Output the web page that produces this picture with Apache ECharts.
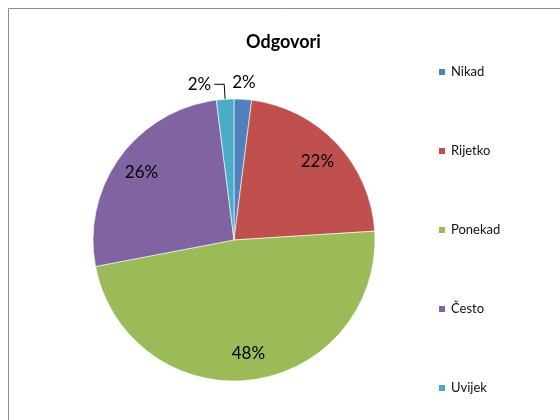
<!DOCTYPE html>
<html>
<head>
<meta charset="utf-8">
<script src="https://cdn.jsdelivr.net/npm/echarts@6/dist/echarts.min.js"></script>
<style>
  html, body { margin: 0; padding: 0; background: #fff; }
  #chart { width: 560px; height: 420px; }
</style>
</head>
<body>
<div id="chart"></div>
<script>
  // odgovori - raspodjela
  const categories = ['Nikad', 'Rijetko', 'Ponekad', 'Često', 'Uvijek']
  const counts = [1, 11, 24, 13, 1]
  const colors = ['#4F81BD', '#C0504D', '#9BBB59', '#8064A2', '#4BACC6']

  const font = 'Lato, "Open Sans", sans-serif'
  const center = [234, 240]
  const R = 141

  const pieData = categories.map((name, i) => ({ name: name, value: counts[i] }))

  const labelFmt = p => Math.round(p.percent) + '%'

  const options = {
    animation: false,
    title: {
      text: 'Odgovori',
      left: 241,
      top: 28,
      textStyle: { fontFamily: font, fontSize: 18, fontWeight: 'bold', color: '#000' }
    },
    legend: {
      orient: 'vertical',
      left: 432,
      top: 60,
      itemWidth: 8,
      itemHeight: 8,
      itemGap: 65,
      icon: 'rect',
      data: categories,
      textStyle: { fontFamily: font, fontSize: 13, color: '#111', lineHeight: 14 }
    },
    graphic: [{
      type: 'rect',
      shape: { x: 8.5, y: 8.5, width: 700, height: 600 },
      style: { fill: 'none', stroke: '#8c8c8c', lineWidth: 1 },
      silent: true
    }],
    series: [
      {
        // main pie
        type: 'pie',
        center: center,
        radius: R,
        startAngle: 90,
        clockwise: true,
        color: colors,
        itemStyle: { borderColor: '#fff', borderWidth: 0.6 },
        label: { show: false },
        labelLine: { show: false },
        emphasis: { disabled: true },
        data: pieData.map(d => d.name === 'Uvijek' ? Object.assign({}, d, {
          label: {
            show: true, position: 'outside', formatter: labelFmt,
            fontFamily: font, fontSize: 17, color: '#000', distanceToLabelLine: 3
          },
          labelLine: { show: true, length: 15, length2: 10, lineStyle: { color: '#000', width: 1 } }
        }) : d)
      },
      {
        // inner labels
        type: 'pie',
        center: center,
        radius: [R * 0.58, R],
        startAngle: 90,
        silent: true,
        itemStyle: { color: 'transparent' },
        emphasis: { disabled: true },
        label: {
          show: true, position: 'inside', formatter: labelFmt,
          fontFamily: font, fontSize: 17, color: '#000'
        },
        labelLine: { show: false },
        data: pieData.map(d => (d.value / 50 < 0.05) ? Object.assign({}, d, { label: { show: false } }) : d)
      },
      {
        // label above the small blue slice
        type: 'pie',
        center: center,
        radius: [R * 1.03, R * 1.17],
        startAngle: 90,
        silent: true,
        itemStyle: { color: 'transparent' },
        emphasis: { disabled: true },
        label: { show: false },
        labelLine: { show: false },
        data: pieData.map(d => d.name === 'Nikad' ? Object.assign({}, d, {
          label: {
            show: true, position: 'inside', formatter: labelFmt,
            fontFamily: font, fontSize: 17, color: '#000'
          }
        }) : d)
      }
    ]
  }

  const chart = echarts.init(document.getElementById('chart'))
  chart.setOption(options, true)
</script>
</body>
</html>
